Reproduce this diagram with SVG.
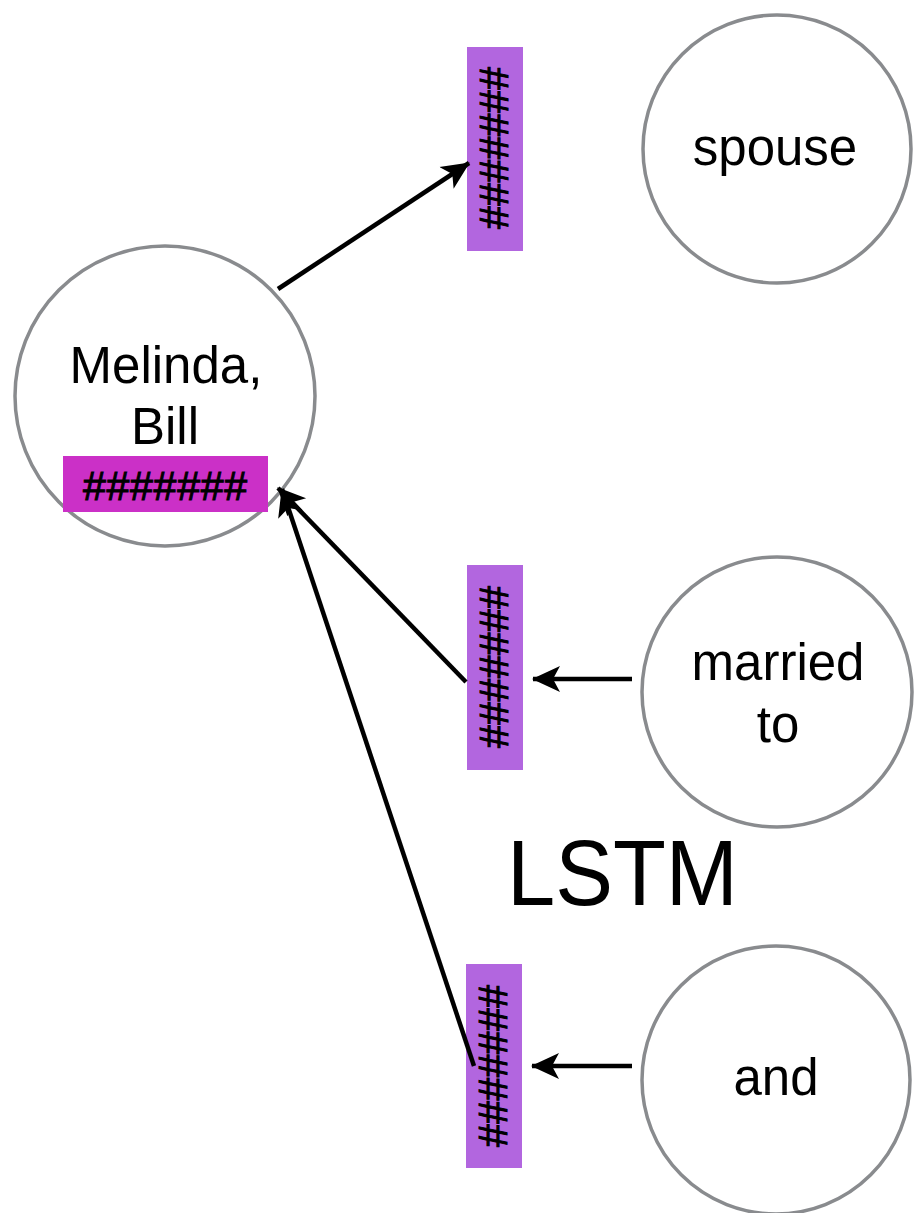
<svg xmlns="http://www.w3.org/2000/svg" width="914" height="1213" viewBox="0 0 914 1213">
<defs>
<style>
.node circle{fill:#fff;stroke:#898b8e;stroke-width:3.5}
.lbl{font-family:"Liberation Sans",Arial,sans-serif;font-size:51px;fill:#000;text-anchor:middle}
.hash{font-family:"Liberation Sans",Arial,sans-serif;font-size:41px;fill:#000;stroke:#000;stroke-width:1;text-anchor:middle}
.bar{fill:#b266df}
.edge{stroke:#000;stroke-width:4.5;fill:none;marker-end:url(#ah)}
</style>
<marker id="ah" markerUnits="userSpaceOnUse" markerWidth="28" markerHeight="28" viewBox="0 0 28 28" refX="27" refY="14" orient="auto">
<path d="M0,1 L28,14 L0,27 L7,14 Z" fill="#000"/>
</marker>
</defs>
<rect width="914" height="1213" fill="#fff"/>
<g id="node-melinda" class="node">
<circle cx="165" cy="396" r="150"/>
<text class="lbl" x="166" y="383">Melinda,</text>
<text class="lbl" x="165" y="444">Bill</text>
<rect x="63" y="456" width="205" height="56" fill="#cb30c7"/>
<text class="hash" x="165" y="500" textLength="164" lengthAdjust="spacing">#######</text>
</g>
<g id="node-bar1">
<rect class="bar" x="467" y="47" width="56" height="204"/>
<text class="hash" transform="translate(480,148) rotate(90)" textLength="162" lengthAdjust="spacing">#######</text>
</g>
<g id="node-bar2">
<rect class="bar" x="467" y="565" width="56" height="205"/>
<text class="hash" transform="translate(480,667) rotate(90)" textLength="162" lengthAdjust="spacing">#######</text>
</g>
<g id="node-bar3">
<rect class="bar" x="466" y="964" width="56" height="204"/>
<text class="hash" transform="translate(479,1066) rotate(90)" textLength="162" lengthAdjust="spacing">#######</text>
</g>
<g id="node-spouse" class="node">
<circle cx="777" cy="149" r="134"/>
<text class="lbl" x="775" y="165">spouse</text>
</g>
<g id="node-married" class="node">
<circle cx="777" cy="692" r="135"/>
<text class="lbl" x="778" y="680">married</text>
<text class="lbl" x="778" y="742">to</text>
</g>
<g id="node-and" class="node">
<circle cx="776" cy="1080" r="134"/>
<text class="lbl" x="776" y="1095">and</text>
</g>
<text id="lstm" x="507" y="905" font-family="'Liberation Sans',Arial,sans-serif" font-size="92" textLength="231" lengthAdjust="spacingAndGlyphs">LSTM</text>
<g id="connectors">
<line class="edge" x1="278" y1="289" x2="469" y2="163"/>
<line class="edge" x1="466" y1="682" x2="278" y2="488"/>
<line class="edge" x1="474" y1="1066" x2="282" y2="489"/>
<line class="edge" x1="632" y1="679" x2="533" y2="679"/>
<line class="edge" x1="632" y1="1066" x2="532" y2="1066"/>
</g>
</svg>
